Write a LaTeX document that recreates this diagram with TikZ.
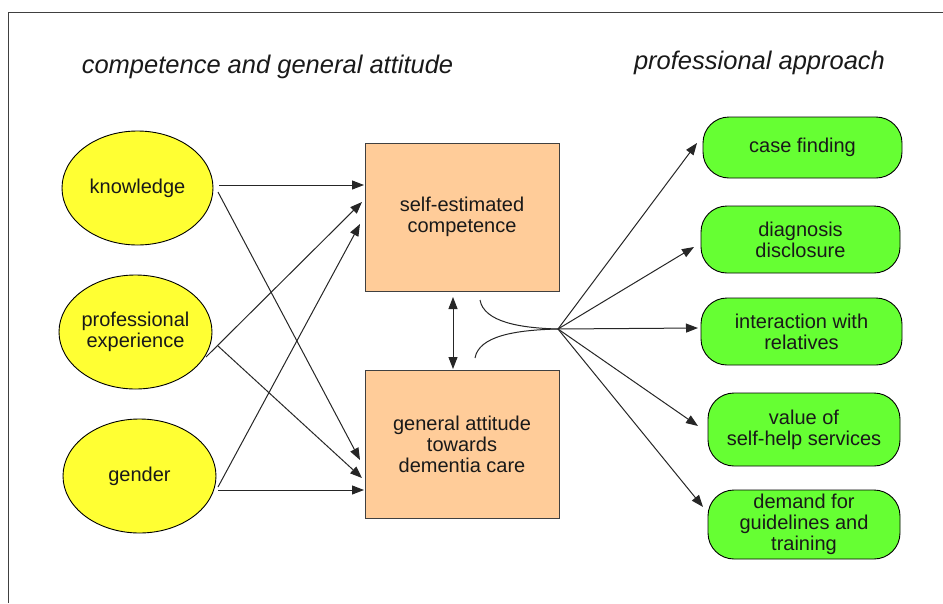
\documentclass[tikz,border=0pt]{standalone}
\usepackage{fontspec}
\setmainfont{Liberation Sans}
\usetikzlibrary{shapes.geometric,arrows.meta}

\definecolor{yellowfill}{HTML}{FFFF33}
\definecolor{peachfill}{HTML}{FFCC99}
\definecolor{greenfill}{HTML}{66FF33}
\definecolor{framegray}{HTML}{404040}

\begin{document}
\begin{tikzpicture}[x=1pt,y=-1pt,
    txt/.style={font=\fontsize{20}{21}\selectfont,align=center,text=black!90},
    factor/.style={txt,ellipse,draw,fill=yellowfill,inner sep=0pt,outer sep=0pt,line width=0.9pt},
    outcome/.style={txt,rectangle,draw=framegray,fill=peachfill,inner sep=0pt,outer sep=0pt,line width=1pt,minimum width=194,minimum height=148},
    approach/.style={txt,rectangle,rounded corners=26pt,draw,fill=greenfill,inner sep=0pt,outer sep=0pt,line width=0.9pt},
    arr/.style={-{Triangle[length=12pt,width=9pt]},line width=1pt,black!85},
    heading/.style={font=\fontsize{25.5}{28}\selectfont\itshape,text=black!90}]
                \useasboundingbox (0,0) rectangle (943,603);
                \draw[framegray,line width=1pt] (8,603) -- (8,12) -- (943,12);
                % headings
                \node[heading] (hleft) at (267.5,67) {competence and general attitude};
                \node[heading] (hright) at (759.5,63) {professional approach};
                % left column
                \node[factor,minimum width=151,minimum height=114] (know) at (137.5,188) {knowledge};
                \node[factor,minimum width=153,minimum height=114] (profexp) at (135.5,332) {professional\\ experience};
                \node[factor,minimum width=153,minimum height=114] (gender) at (139.5,476) {gender};
                % middle column
                \node[outcome] (selfcomp) at (462,217) {self-estimated\\ competence};
                \node[outcome] (genatt) at (462,444) {general attitude\\ towards\\ dementia care};
                % right column
                \node[approach,minimum width=199,minimum height=61] (case) at (802.5,147.5) {\raisebox{-3pt}{case finding}};
                \node[approach,minimum width=199,minimum height=67] (diag) at (800.5,239.5) {diagnosis\\ disclosure};
                \node[approach,minimum width=201,minimum height=67] (inter) at (801.5,331.5) {interaction with\\ relatives};
                \node[approach,minimum width=192,minimum height=73] (value) at (804,429.5) {value of\\ self-help services};
                \node[approach,minimum width=192,minimum height=69] (demand) at (804,524.5) {demand for\\ guidelines and\\ training};
                % factors to outcomes
                \draw[arr] ([shift={(6,-3)}]know.east) -- ([shift={(-1,-32)}]selfcomp.west);
                \draw[arr] ([shift={(5,4)}]know.east) -- ([shift={(-5,16)}]genatt.west);
                \draw[arr] ([shift={(-6,25)}]profexp.east) -- ([shift={(-3,-15)}]selfcomp.west);
                \draw[arr] ([shift={(6,14)}]profexp.east) -- ([shift={(-3,34)}]genatt.west);
                \draw[arr] ([shift={(2,11)}]gender.east) -- ([shift={(-5,7)}]selfcomp.west);
                \draw[arr] ([shift={(2,14)}]gender.east) -- ([shift={(-1,46)}]genatt.west);
                \draw[arr,{Triangle[length=12pt,width=9pt]}-{Triangle[length=12pt,width=9pt]}] ([shift={(-9,6)}]selfcomp.south) -- ([shift={(-9,-1)}]genatt.north);
                % joint effect
                \coordinate (hub) at (558,329);
                \coordinate (up) at (480,300);
                \coordinate (low) at (475,358);
                \draw[line width=1pt,black!85] (up) .. controls (484,322) and (520,328) .. (hub);
                \draw[line width=1pt,black!85] (low) .. controls (479,336) and (515,330) .. (hub);
                \draw[arr] (hub) -- ([shift={(-6,-4.5)}]case.west);
                \draw[arr] (hub) -- ([shift={(-7,7.5)}]diag.west);
                \draw[arr] (hub) -- ([shift={(-3,-3.5)}]inter.west);
                \draw[arr] (hub) -- ([shift={(-10,-3.5)}]value.west);
                \draw[arr] (hub) -- ([shift={(-5,-17.5)}]demand.west);
            \end{tikzpicture}
\end{document}
